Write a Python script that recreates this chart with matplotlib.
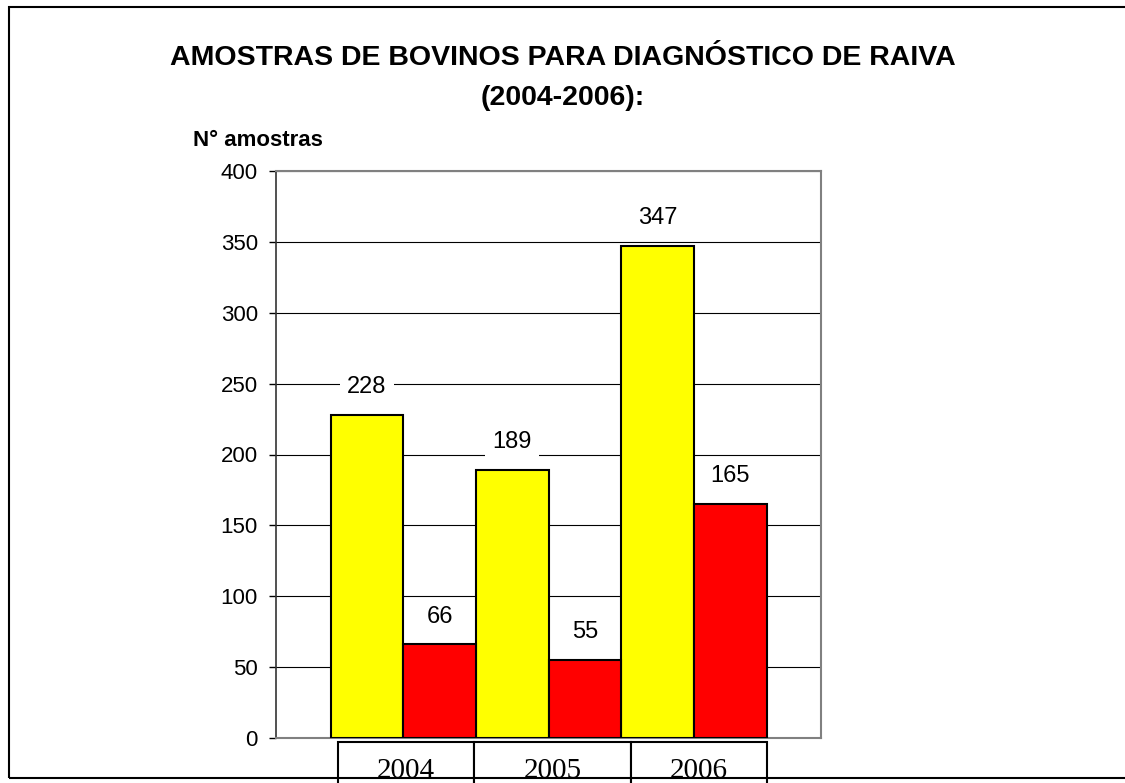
import matplotlib.pyplot as plt
from matplotlib.patches import Rectangle
from matplotlib.transforms import blended_transform_factory

plt.rcParams['font.family'] = ['Liberation Sans', 'DejaVu Sans']

anos = ['2004', '2005', '2006']
amarelo = [228, 189, 347]
vermelho = [66, 55, 165]
yticks = [0, 50, 100, 150, 200, 250, 300, 350, 400]
# limites das celulas da tabela de anos (em unidades do eixo x)
celulas = [-0.45, 0.49, 1.57, 2.5]

W, H = 1125, 783
fig = plt.figure(figsize=(W / 100, H / 100), dpi=100)

# moldura externa
fig.patches.append(Rectangle((9 / W, 1 - 778 / H), 1.2, (778 - 7) / H,
                             transform=fig.transFigure, fill=False,
                             edgecolor='black', lw=1.5, zorder=0))

ax = fig.add_axes([276 / W, 1 - 738 / H, 545 / W, 567 / H])

x = list(range(len(anos)))
larg = 0.5
xa = [i - larg / 2 for i in x]
xv = [i + larg / 2 for i in x]
b1 = ax.bar(xa, amarelo, width=larg, color='#FFFF00', edgecolor='black', lw=1.5, zorder=3)
b2 = ax.bar(xv, vermelho, width=larg, color='#FF0000', edgecolor='black', lw=1.5, zorder=3)

for bars, vals in ((b1, amarelo), (b2, vermelho)):
    for r, v in zip(bars, vals):
        ax.annotate(str(v), (r.get_x() + r.get_width() / 2, v),
                    xytext=(0, 20), textcoords='offset points',
                    ha='center', va='center', fontsize=17, zorder=4,
                    bbox=dict(boxstyle='square,pad=0.3', fc='white', ec='none'))

ax.set_xlim(-0.875, 2.875)
ax.set_ylim(0, 400)
ax.set_yticks(yticks)
ax.set_xticks([])
ax.yaxis.grid(True, color='black', lw=0.8)
ax.set_axisbelow(True)
ax.tick_params(axis='y', labelsize=16, length=5, width=1, pad=8, direction='out')

for s in ('top', 'right', 'bottom'):
    ax.spines[s].set_color('#808080')
    ax.spines[s].set_linewidth(1.5)
ax.spines['left'].set_color('#333333')
ax.spines['left'].set_linewidth(1.2)

# tabela de anos abaixo do eixo
trans = blended_transform_factory(ax.transData, fig.transFigure)
y0 = 1 - 742 / H
for i, ano in enumerate(anos):
    x0, x1 = celulas[i], celulas[i + 1]
    ax.add_patch(Rectangle((x0, y0 - 0.1), x1 - x0, 0.1, transform=trans,
                           fc='white', ec='black', lw=1.5, clip_on=False, zorder=5))
    ax.text((x0 + x1) / 2, 1 - 778 / H, ano, transform=trans, ha='center',
            va='baseline', fontsize=21, family='Liberation Serif', zorder=6)

fig.text(563 / W, 1 - 65 / H, 'AMOSTRAS DE BOVINOS PARA DIAGNÓSTICO DE RAIVA',
         ha='center', va='baseline', fontsize=20.5, fontweight='bold')
fig.text(563 / W, 1 - 105 / H, '(2004-2006):',
         ha='center', va='baseline', fontsize=20.5, fontweight='bold')
fig.text(193 / W, 1 - 146 / H, 'N° amostras', ha='left', va='baseline',
         fontsize=16, fontweight='bold')

fig.savefig('out.png', dpi=100)
